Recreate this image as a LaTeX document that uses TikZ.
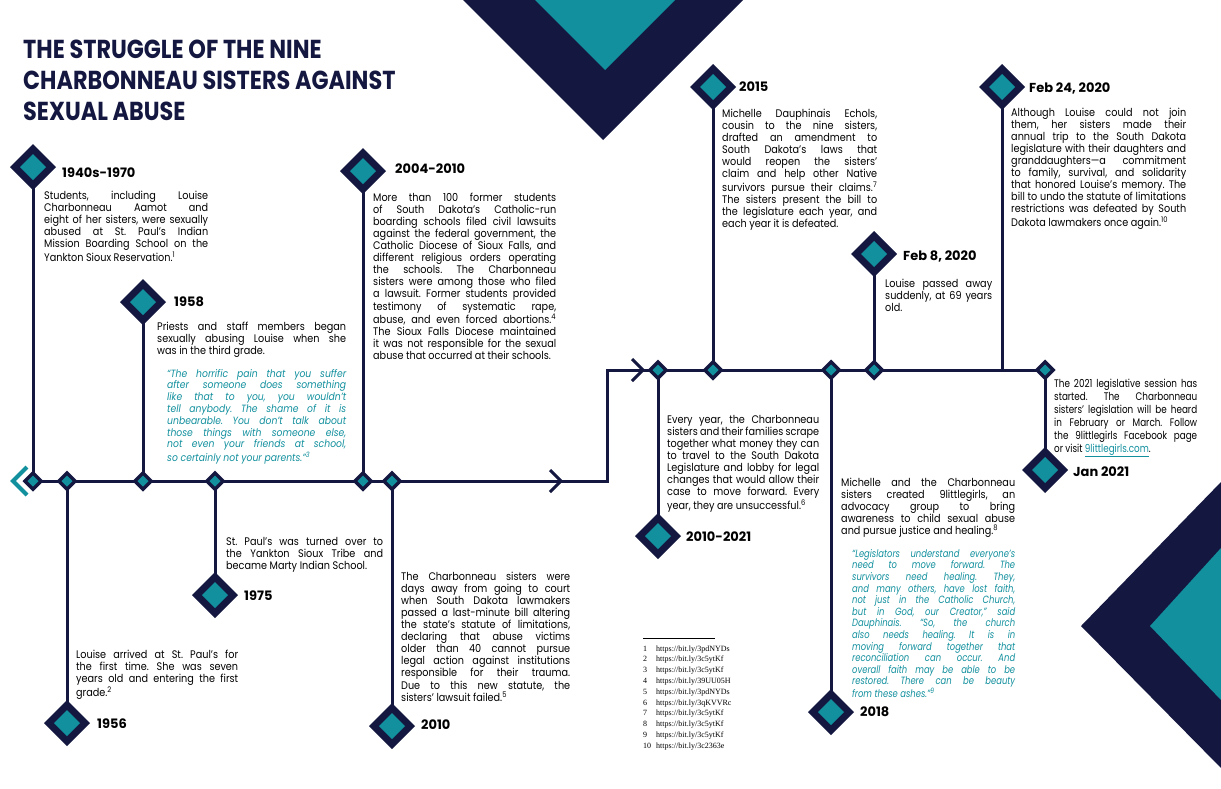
\documentclass[tikz,border=0pt]{standalone}
\usepackage{fontspec}
\setmainfont{Poppins}
\newfontfamily\bodyf{Poppins}[FakeStretch=0.88]
\newfontfamily\condf{Poppins}[FakeStretch=0.8]
\newfontfamily\titlef{Poppins}[FakeStretch=0.86]
\newfontfamily\fnf{Liberation Serif}
\usetikzlibrary{shapes.geometric}
\definecolor{navy}{HTML}{141840}
\definecolor{tealc}{HTML}{12909E}
\pgfdeclarelayer{back}
\pgfdeclarelayer{bg}
\pgfsetlayers{back,bg,main}
\newcommand\jstart{\frenchspacing\tolerance=10000 \hyphenpenalty=10000 \strut}
\newcommand\fnn[1]{\textsuperscript{#1}}
\newcommand\fnline[2]{\makebox[13pt][l]{#1}#2}
\tikzset{
  dbig/.style={diamond, fill=navy, minimum width=46pt, minimum height=46pt, inner sep=0pt, outer sep=0pt,
    path picture={\fill[tealc] ([xshift=-13pt]path picture bounding box.center) -- ([yshift=13pt]path picture bounding box.center) -- ([xshift=13pt]path picture bounding box.center) -- ([yshift=-13pt]path picture bounding box.center) -- cycle;}},
  dsmall/.style={diamond, fill=navy, minimum width=21pt, minimum height=21pt, inner sep=0pt, outer sep=0pt,
    path picture={\fill[tealc] ([xshift=-5.5pt]path picture bounding box.center) -- ([yshift=5.5pt]path picture bounding box.center) -- ([xshift=5.5pt]path picture bounding box.center) -- ([yshift=-5.5pt]path picture bounding box.center) -- cycle;}},
  tl/.style={draw=navy, line width=3pt},
  lbl/.style={anchor=base west, inner sep=0pt, font=\fontsize{13}{15}\selectfont\bfseries},
  body/.style={anchor=north west, inner sep=0pt, text width=#1, align=justify,
    font=\bodyf\fontsize{11}{12.1}\selectfont},
  quote/.style={anchor=north west, inner sep=0pt, text width=#1, align=justify, text=tealc,
    font=\bodyf\itshape\fontsize{10.5}{11.8}\selectfont},
}
\begin{document}
\begin{tikzpicture}[x=1pt,y=-1pt]
\useasboundingbox (0,0) rectangle (1221,788);
\begin{pgfonlayer}{back}
\fill[white] (0,0) rectangle (1221,788);
\end{pgfonlayer}
% decorations
\fill[navy] (463,0) -- (743,0) -- (603,140) -- cycle;
\fill[tealc] (535,0) -- (675,0) -- (605,70) -- cycle;
\fill[navy] (1221,482) -- (1081,626) -- (1221,768) -- cycle;
\fill[tealc] (1221,548) -- (1150,626) -- (1221,700) -- cycle;
% title
\node[anchor=north west, inner sep=0pt, align=left, text=navy,
  font=\titlef\bfseries\fontsize{26}{31}\selectfont] (title) at (23,40)
  {THE STRUGGLE OF THE NINE\\CHARBONNEAU SISTERS AGAINST\\SEXUAL ABUSE};
% big diamonds
\node[dbig] (d1) at (33,167) {};
\node[dbig] (d2) at (67,723) {};
\node[dbig] (d3) at (143,302) {};
\node[dbig] (d4) at (215,595) {};
\node[dbig] (d5) at (363,171) {};
\node[dbig] (d6) at (392,726) {};
\node[dbig] (d7) at (658,536) {};
\node[dbig] (d8) at (713,87) {};
\node[dbig] (d9) at (831,712) {};
\node[dbig] (d10) at (874,254) {};
\node[dbig] (d11) at (1002,87) {};
\node[dbig] (d12) at (1045,470) {};
% small diamonds
\node[dsmall] (s1) at (33,481) {};
\node[dsmall] (s2) at (67,481) {};
\node[dsmall] (s3) at (143,481) {};
\node[dsmall] (s4) at (215,481) {};
\node[dsmall] (s5) at (363,481) {};
\node[dsmall] (s6) at (392,481) {};
\node[dsmall] (s7) at (658,370) {};
\node[dsmall] (s8) at (713,370) {};
\node[dsmall] (s9) at (831,370) {};
\node[dsmall] (s10) at (874,370) {};
\node[dsmall] (s12) at (1045,370) {};
\coordinate (j11) at (1002,370);
\coordinate (c1) at (607,481);
\coordinate (c2) at (607,370);
\begin{pgfonlayer}{bg}
\draw[tl] (s1.center) -- (s6.center) -- (c1) -- (c2) -- (s12.center);
\draw[tl] (d1.center) -- (s1.center);
\draw[tl] (s2.center) -- (d2.center);
\draw[tl] (d3.center) -- (s3.center);
\draw[tl] (s4.center) -- (d4.center);
\draw[tl] (d5.center) -- (s5.center);
\draw[tl] (s6.center) -- (d6.center);
\draw[tl] (s7.center) -- (d7.center);
\draw[tl] (d8.center) -- (s8.center);
\draw[tl] (s9.center) -- (d9.center);
\draw[tl] (d10.center) -- (s10.center);
\draw[tl] (d11.center) -- (j11);
\draw[tl] (s12.center) -- (d12.center);
\end{pgfonlayer}
% chevrons
\draw[tealc, line width=4pt] (27,467) -- (13,481) -- (27,495);
\draw[navy, line width=3pt] (550,470) -- (561,481) -- (550,492);
\draw[navy, line width=3pt] (632,359) -- (643,370) -- (632,381);
% labels
\node[lbl] (l1) at (62,177.5) {1940s-1970};
\node[lbl] (l2) at (97,728) {1956};
\node[lbl] (l3) at (174,306) {1958};
\node[lbl] (l4) at (244,600) {1975};
\node[lbl] (l5) at (395,173) {2004-2010};
\node[lbl] (l6) at (421,729) {2010};
\node[lbl] (l7) at (686,541) {2010-2021};
\node[lbl] (l8) at (739,91) {2015};
\node[lbl] (l9) at (860,716) {2018};
\node[lbl] (l10) at (903,260) {Feb 8, 2020};
\node[lbl] (l11) at (1029,92) {Feb 24, 2020};
\node[lbl] (l12) at (1073,476) {Jan 2021};
% texts (node top = first baseline - 0.7 baselineskip)
\node[body=164pt] (t1) at (44,190.5) {\jstart Students, including Louise\linebreak Charbonneau Aamot and\linebreak eight of her sisters, were sexually\linebreak abused at St. Paul’s Indian\linebreak Mission Boarding School on the\linebreak Yankton Sioux Reservation.\fnn{1}};
\node[body=189pt] (t3) at (157,321.5) {\jstart Priests and staff members began\linebreak sexually abusing Louise when she\linebreak was in the third grade.};
\node[quote=179pt] (q3) at (167,368.7) {\jstart “The horrific pain that you suffer\linebreak after someone does something\linebreak like that to you, you wouldn’t\linebreak tell anybody. The shame of it is\linebreak unbearable. You don’t talk about\linebreak those things with someone else,\linebreak not even your friends at school,\linebreak so certainly not your parents.”\fnn{3}};
\node[body=183pt] (t5) at (373,192.5) {\jstart More than 100 former students\linebreak of South Dakota’s Catholic-run\linebreak boarding schools filed civil lawsuits\linebreak against the federal government, the\linebreak Catholic Diocese of Sioux Falls, and\linebreak different religious orders operating\linebreak the schools. The Charbonneau\linebreak sisters were among those who filed\linebreak a lawsuit. Former students provided\linebreak testimony of systematic rape,\linebreak abuse, and even forced abortions.\fnn{4}\linebreak The Sioux Falls Diocese maintained\linebreak it was not responsible for the sexual\linebreak abuse that occurred at their schools.};
\node[body=162pt, font=\bodyf\fontsize{11}{12.4}\selectfont] (t2) at (76,649.3) {\jstart Louise arrived at St. Paul’s for\linebreak the first time. She was seven\linebreak years old and entering the first\linebreak grade.\fnn{2}};
\node[body=157pt] (t4) at (226,536.5) {\jstart St. Paul’s was turned over to\linebreak the Yankton Sioux Tribe and\linebreak became Marty Indian School.};
\node[body=169pt] (t6) at (401,571.5) {\jstart The Charbonneau sisters were\linebreak days away from going to court\linebreak when South Dakota lawmakers\linebreak passed a last-minute bill altering\linebreak the state’s statute of limitations,\linebreak declaring that abuse victims\linebreak older than 40 cannot pursue\linebreak legal action against institutions\linebreak responsible for their trauma.\linebreak Due to this new statute, the\linebreak sisters’ lawsuit failed.\fnn{5}};
\node[body=152pt] (t7) at (667,414.5) {\jstart Every year, the Charbonneau\linebreak sisters and their families scrape\linebreak together what money they can\linebreak to travel to the South Dakota\linebreak Legislature and lobby for legal\linebreak changes that would allow their\linebreak case to move forward. Every\linebreak year, they are unsuccessful.\fnn{6}};
\node[body=155pt] (t8) at (722,108.5) {\jstart Michelle Dauphinais Echols,\linebreak cousin to the nine sisters,\linebreak drafted an amendment to\linebreak South Dakota’s laws that\linebreak would reopen the sisters’\linebreak claim and help other Native\linebreak survivors pursue their claims.\fnn{7}\linebreak The sisters present the bill to\linebreak the legislature each year, and\linebreak each year it is defeated.};
\node[body=174pt] (t9) at (841,477.5) {\jstart Michelle and the Charbonneau\linebreak sisters created 9littlegirls, an\linebreak advocacy group to bring\linebreak awareness to child sexual abuse\linebreak and pursue justice and healing.\fnn{8}};
\node[quote=163pt, font=\condf\itshape\fontsize{10.5}{11.6}\selectfont] (q9) at (852,548.9) {\jstart “Legislators understand everyone’s\linebreak need to move forward. The\linebreak survivors need healing. They,\linebreak and many others, have lost faith,\linebreak not just in the Catholic Church,\linebreak but in God, our Creator,” said\linebreak Dauphinais. “So, the church\linebreak also needs healing. It is in\linebreak moving forward together that\linebreak reconciliation can occur. And\linebreak overall faith may be able to be\linebreak restored. There can be beauty\linebreak from these ashes.”\fnn{9}};
\node[body=107pt] (t10) at (885,278.5) {\jstart Louise passed away\linebreak suddenly, at 69 years\linebreak old.};
\node[body=175pt] (t11) at (1011,107.5) {\jstart Although Louise could not join\linebreak them, her sisters made their\linebreak annual trip to the South Dakota\linebreak legislature with their daughters and\linebreak granddaughters—a commitment\linebreak to family, survival, and solidarity\linebreak that honored Louise’s memory. The\linebreak bill to undo the statute of limitations\linebreak restrictions was defeated by South\linebreak Dakota lawmakers once again.\fnn{10}};
\node[body=143pt, font=\condf\fontsize{11}{13}\selectfont] (t12) at (1054,377.9) {\jstart The 2021 legislative session has\linebreak started. The Charbonneau\linebreak sisters’ legislation will be heard\linebreak in February or March. Follow\linebreak the 9littlegirls Facebook page\linebreak or visit {\color{tealc}\underline{9littlegirls.com}}.};
% footnotes
\draw[black, line width=0.5pt] (643,638) -- (715,638);
\node[anchor=north west, inner sep=0pt, text width=120pt, align=left,
  font=\fnf\fontsize{8}{10.8}\selectfont] (fn) at (643,643.4)
  {\strut\fnline{1}{https://bit.ly/3pdNYDs}\\
   \fnline{2}{https://bit.ly/3c5ytKf}\\
   \fnline{3}{https://bit.ly/3c5ytKf}\\
   \fnline{4}{https://bit.ly/39UU05H}\\
   \fnline{5}{https://bit.ly/3pdNYDs}\\
   \fnline{6}{https://bit.ly/3qKVVRc}\\
   \fnline{7}{https://bit.ly/3c5ytKf}\\
   \fnline{8}{https://bit.ly/3c5ytKf}\\
   \fnline{9}{https://bit.ly/3c5ytKf}\\
   \fnline{10}{https://bit.ly/3c2363e}};
\end{tikzpicture}
\end{document}
